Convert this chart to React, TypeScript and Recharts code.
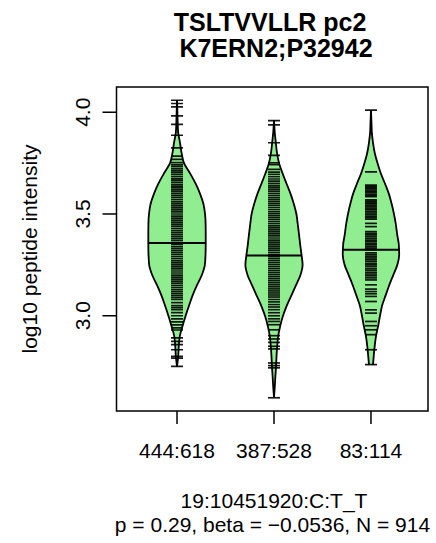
import {
  Area,
  ComposedChart,
  ReferenceArea,
  ReferenceLine,
  Scatter,
  XAxis,
  YAxis,
} from 'recharts';

const groupLabels = ['444:618', '387:528', '83:114'];
const groupPos = [1, 2, 3];
const yTicks = [3.0, 3.5, 4.0];
const medians = [3.358, 3.296, 3.324];

// bean outline: log10 intensity vs half width (in group spacing units)
const bean1Y = [4.06, 4.0, 3.95, 3.9, 3.85, 3.8, 3.75, 3.7, 3.65, 3.6, 3.55, 3.5, 3.45, 3.4, 3.35, 3.3, 3.25, 3.2, 3.15, 3.1, 3.05, 3.0, 2.95, 2.9, 2.85, 2.8, 2.75];
const bean1W = [0, 0.004, 0.007, 0.012, 0.031, 0.047, 0.072, 0.134, 0.191, 0.237, 0.272, 0.289, 0.295, 0.296, 0.296, 0.294, 0.287, 0.256, 0.206, 0.161, 0.124, 0.089, 0.057, 0.029, 0.018, 0.012, 0];

const bean2Y = [3.96, 3.9, 3.85, 3.8, 3.75, 3.7, 3.65, 3.6, 3.55, 3.5, 3.45, 3.4, 3.35, 3.3, 3.25, 3.2, 3.15, 3.1, 3.05, 3.0, 2.95, 2.9, 2.85, 2.8, 2.75, 2.7, 2.65, 2.6];
const bean2W = [0, 0.008, 0.019, 0.031, 0.052, 0.088, 0.129, 0.17, 0.204, 0.231, 0.245, 0.258, 0.27, 0.284, 0.295, 0.273, 0.227, 0.18, 0.132, 0.093, 0.064, 0.043, 0.033, 0.026, 0.021, 0.014, 0.008, 0];

const bean3Y = [4.01, 3.95, 3.9, 3.85, 3.8, 3.75, 3.7, 3.65, 3.6, 3.55, 3.5, 3.45, 3.4, 3.35, 3.3, 3.25, 3.2, 3.15, 3.1, 3.05, 3.0, 2.95, 2.9, 2.85, 2.8, 2.76];
const bean3W = [0, 0.005, 0.009, 0.021, 0.039, 0.067, 0.101, 0.144, 0.184, 0.213, 0.237, 0.256, 0.27, 0.287, 0.291, 0.272, 0.23, 0.188, 0.151, 0.115, 0.093, 0.074, 0.052, 0.038, 0.028, 0.021];

// individual peptide values (bean lines)
const rug1 = [
  4.059, 4.043, 4.026, 3.982, 3.94, 3.887, 3.825, 3.784, 3.768, 3.752, 3.741, 3.733, 3.722, 3.712,
  3.703, 3.694, 3.684, 3.673, 3.665, 3.656, 3.646, 3.637, 3.628, 3.619, 3.61, 3.6, 3.59, 3.58, 3.57,
  3.56, 3.55, 3.54, 3.53, 3.52, 3.51, 3.5, 3.49, 3.48, 3.47, 3.46, 3.45, 3.44, 3.43, 3.42, 3.41, 3.4,
  3.39, 3.38, 3.37, 3.36, 3.35, 3.34, 3.33, 3.32, 3.31, 3.3, 3.29, 3.28, 3.27, 3.26, 3.25, 3.24, 3.23,
  3.22, 3.21, 3.2, 3.19, 3.18, 3.17, 3.16, 3.15, 3.14, 3.13, 3.12, 3.11, 3.1, 3.09, 3.08, 3.065, 3.05,
  3.04, 3.03, 3.015, 3.0, 2.985, 2.97, 2.955, 2.94, 2.93, 2.891, 2.874, 2.858, 2.833, 2.8, 2.792, 2.751,
];
const rug2 = [
  3.959, 3.938, 3.85, 3.788, 3.751, 3.742, 3.719, 3.706, 3.695, 3.683, 3.672, 3.662, 3.651, 3.641,
  3.632, 3.622, 3.612, 3.602, 3.592, 3.582, 3.572, 3.562, 3.552, 3.542, 3.532, 3.522, 3.512, 3.502,
  3.492, 3.482, 3.472, 3.462, 3.452, 3.442, 3.432, 3.422, 3.412, 3.402, 3.392, 3.382, 3.372, 3.362,
  3.352, 3.342, 3.332, 3.322, 3.312, 3.302, 3.292, 3.282, 3.272, 3.262, 3.252, 3.242, 3.232, 3.222,
  3.212, 3.202, 3.192, 3.182, 3.172, 3.162, 3.152, 3.142, 3.132, 3.122, 3.112, 3.102, 3.092, 3.08,
  3.068, 3.055, 3.043, 3.03, 3.015, 3.0, 2.985, 2.972, 2.956, 2.931, 2.902, 2.886, 2.869, 2.85, 2.837,
  2.768, 2.755, 2.744, 2.597,
];
const rug3 = [
  4.01, 3.707, 3.642, 3.636, 3.63, 3.624, 3.618, 3.612, 3.606, 3.598, 3.59, 3.585, 3.569, 3.563,
  3.556, 3.55, 3.543, 3.535, 3.528, 3.52, 3.512, 3.505, 3.498, 3.49, 3.482, 3.475, 3.454, 3.438,
  3.413, 3.405, 3.397, 3.389, 3.38, 3.372, 3.364, 3.356, 3.348, 3.34, 3.332, 3.324, 3.309, 3.3, 3.292,
  3.284, 3.276, 3.268, 3.258, 3.25, 3.242, 3.232, 3.224, 3.214, 3.205, 3.196, 3.186, 3.176, 3.152,
  3.131, 3.119, 3.108, 3.095, 3.07, 3.029, 3.013, 2.972, 2.951, 2.931, 2.907, 2.833, 2.76,
];

const beans = [
  { pos: groupPos[0], ys: bean1Y, ws: bean1W, rug: rug1, median: medians[0] },
  { pos: groupPos[1], ys: bean2Y, ws: bean2W, rug: rug2, median: medians[1] },
  { pos: groupPos[2], ys: bean3Y, ws: bean3W, rug: rug3, median: medians[2] },
];

const widthAt = (ys: number[], ws: number[], v: number) => {
  for (let i = 0; i < ys.length - 1; i++) {
    if (v <= ys[i] && v >= ys[i + 1]) {
      const t = (ys[i] - v) / (ys[i] - ys[i + 1]);
      return ws[i] + t * (ws[i + 1] - ws[i]);
    }
  }
  return 0;
};

const FONT = '"Liberation Sans", Arial, Helvetica, sans-serif';
const X_DOMAIN: [number, number] = [0.376, 3.588];
const Y_DOMAIN: [number, number] = [2.532, 4.124];

const RugTick = (props: any) => {
  const { cx, cy } = props;
  return <line x1={cx - 6} x2={cx + 6} y1={cy} y2={cy} stroke="#000" strokeOpacity={0.9} strokeWidth={1.7} />;
};

const YTick = (props: any) => {
  const { x, y, payload } = props;
  return (
    <text
      x={x}
      y={y}
      transform={`rotate(-90, ${x}, ${y})`}
      textAnchor="middle"
      fontSize={21}
      fontFamily={FONT}
      fill="#000"
    >
      {Number(payload.value).toFixed(1)}
    </text>
  );
};

export default function App() {
  return (
    <div style={{ position: 'absolute', left: 0, top: 0, width: 436, height: 543, background: '#fff', fontFamily: FONT }}>
      <ComposedChart
        width={436}
        height={543}
        layout="vertical"
        margin={{ top: 87, right: 8, bottom: 72, left: 56.5 }}
      >
        <XAxis
          type="number"
          dataKey="x"
          domain={X_DOMAIN}
          allowDataOverflow
          ticks={groupPos}
          tickFormatter={(v: number) => groupLabels[v - 1]}
          axisLine={false}
          tickLine={{ stroke: '#000', strokeWidth: 1.5 }}
          tickSize={13}
          tickMargin={19}
          height={60}
          interval={0}
          tick={{ fill: '#000', fontSize: 21, fontFamily: FONT }}
        />
        <YAxis
          type="number"
          dataKey="y"
          domain={Y_DOMAIN}
          allowDataOverflow
          reversed
          ticks={yTicks}
          axisLine={false}
          tickLine={{ stroke: '#000', strokeWidth: 1.5 }}
          tickSize={14}
          tickMargin={12.5}
          width={60}
          interval={0}
          tick={<YTick />}
        />
        <ReferenceArea
          x1={X_DOMAIN[0]}
          x2={X_DOMAIN[1]}
          y1={Y_DOMAIN[0]}
          y2={Y_DOMAIN[1]}
          fill="none"
          fillOpacity={0}
          stroke="#000"
          strokeWidth={1.5}
        />
        {beans.map((b, i) => (
          <Area
            key={`bean${i}`}
            data={b.ys.map((y, j) => ({ y, band: [b.pos - b.ws[j], b.pos + b.ws[j]] }))}
            dataKey="band"
            type="monotone"
            fill="#90EE90"
            fillOpacity={1}
            stroke="#000"
            strokeWidth={1.8}
            isAnimationActive={false}
            dot={false}
            activeDot={false}
          />
        ))}
        {beans.map((b, i) => (
          <Scatter
            key={`rug${i}`}
            data={b.rug.map((v) => ({ x: b.pos, y: v }))}
            shape={<RugTick />}
            isAnimationActive={false}
          />
        ))}
        {beans.map((b, i) => {
          const w = widthAt(b.ys, b.ws, b.median);
          return (
            <ReferenceLine
              key={`med${i}`}
              segment={[
                { x: b.pos - w, y: b.median },
                { x: b.pos + w, y: b.median },
              ]}
              stroke="#000"
              strokeWidth={2}
            />
          );
        })}
      </ComposedChart>
      <svg
        width={436}
        height={543}
        style={{ position: 'absolute', left: 0, top: 0, pointerEvents: 'none' }}
        fontFamily={FONT}
      >
        <text x={270} y={31} textAnchor="middle" fontSize={25} fontWeight="bold" fill="#000">
          TSLTVVLLR pc2
        </text>
        <text x={276} y={56.5} textAnchor="middle" fontSize={25} fontWeight="bold" fill="#000">
          K7ERN2;P32942
        </text>
        <text x={37} y={249} transform="rotate(-90, 37, 249)" textAnchor="middle" fontSize={21} fill="#000">
          log10 peptide intensity
        </text>
        <text x={274} y={508} textAnchor="middle" fontSize={21} fill="#000">
          19:10451920:C:T_T
        </text>
        <text x={272.5} y={532} textAnchor="middle" fontSize={21} fill="#000">
          p = 0.29, beta = −0.0536, N = 914
        </text>
      </svg>
    </div>
  );
}
